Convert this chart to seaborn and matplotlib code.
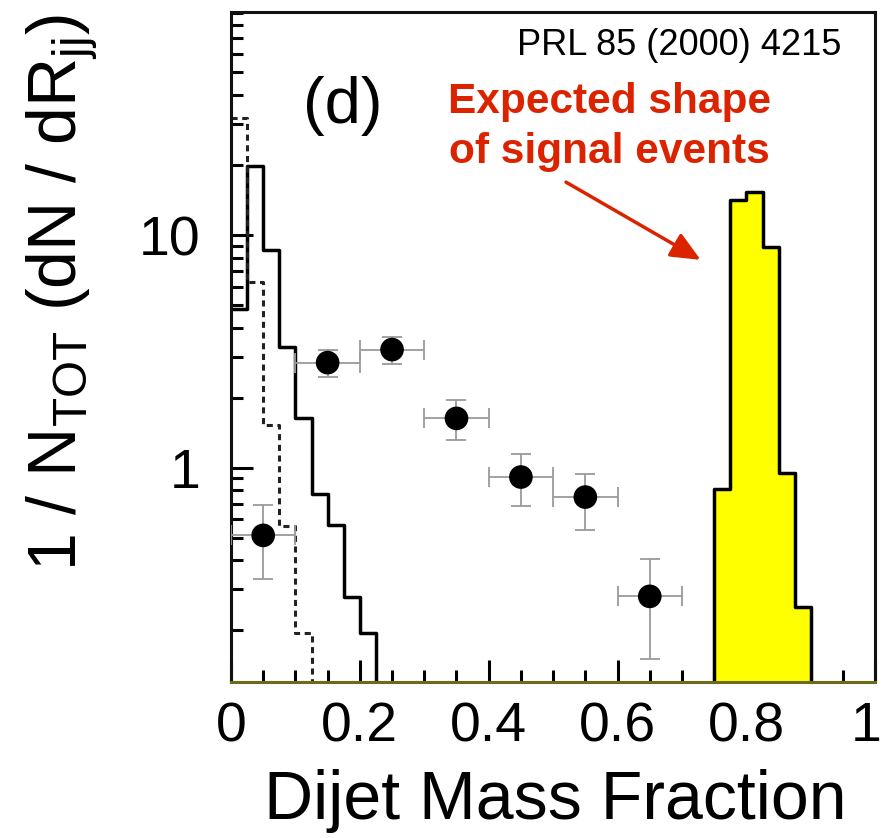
import numpy as np
import matplotlib
matplotlib.use('Agg')
import matplotlib.pyplot as plt
from matplotlib.ticker import MultipleLocator, NullFormatter
from matplotlib.transforms import ScaledTranslation
import seaborn as sns

# Background shapes (bins of 0.025 starting at 0)
solid_centers = [0.0125, 0.0375, 0.0625, 0.0875, 0.1125, 0.1375, 0.1625, 0.1875, 0.2125]
solid_heights = [4.8, 19.9, 8.6, 3.3, 1.64, 0.77, 0.57, 0.278, 0.195]
dashed_centers = [0.0125, 0.0375, 0.0625, 0.0875, 0.1125]
dashed_heights = [32.0, 6.3, 1.52, 0.56, 0.195]

# Expected signal shape (yellow)
signal_centers = [0.7625, 0.7875, 0.8125, 0.8375, 0.8625, 0.8875]
signal_heights = [0.81, 14.2, 15.3, 8.9, 0.95, 0.252]

# Data points with errors
data_x = [0.05, 0.15, 0.25, 0.35, 0.45, 0.55, 0.65]
data_y = [0.512, 2.83, 3.22, 1.63, 0.912, 0.748, 0.28]
data_lo = [0.331, 2.45, 2.80, 1.31, 0.683, 0.542, 0.151]
data_hi = [0.689, 3.20, 3.65, 1.95, 1.15, 0.943, 0.404]
data_xerr = [0.05, 0.05, 0.05, 0.05, 0.05, 0.05, 0.05]

xtick_vals = [0, 0.2, 0.4, 0.6, 0.8, 1.0]
xtick_labels = ['0', '0.2', '0.4', '0.6', '0.8', '1']
ytick_vals = [1, 10]
ytick_labels = ['1', '10']

sns.set_style('ticks')
plt.rcParams['font.family'] = ['Liberation Sans', 'DejaVu Sans']
plt.rcParams['mathtext.fontset'] = 'custom'
plt.rcParams['mathtext.rm'] = 'Liberation Sans'
plt.rcParams['text.color'] = 'black'
plt.rcParams['axes.labelcolor'] = 'black'

red = '#dc2300'

fig = plt.figure(figsize=(8.85, 8.38), dpi=100)
ax = fig.add_axes([0.261, 0.1862, 0.728, 0.7995])
ax.set_yscale('log')

# signal
sns.histplot(x=signal_centers, weights=signal_heights, bins=6, binrange=(0.75, 0.9),
             element='step', fill=True, color='#ffff00', edgecolor='black',
             linewidth=2.5, alpha=1, ax=ax, zorder=2)
# backgrounds
sns.histplot(x=solid_centers, weights=solid_heights, bins=40, binrange=(0, 1),
             element='step', fill=False, color='black', linewidth=2.5, ax=ax, zorder=2)
sns.histplot(x=dashed_centers, weights=dashed_heights, bins=40, binrange=(0, 1),
             element='step', fill=False, color='#222222', linewidth=2.2,
             linestyle=(0, (2.0, 1.5)), ax=ax, zorder=2)

# data
yerr = [np.subtract(data_y, data_lo), np.subtract(data_hi, data_y)]
ax.errorbar(data_x, data_y, xerr=data_xerr, yerr=yerr, fmt='none', ecolor='#9a9a9a',
            elinewidth=1.3, capsize=7, capthick=1.3, zorder=3)
sns.scatterplot(x=data_x, y=data_y, color='black', s=290, edgecolor='none', zorder=4, ax=ax)

ax.set_xlim(0, 1)
ax.set_ylim(0.12, 91)
ax.set_xticks(xtick_vals, xtick_labels)
ax.xaxis.set_minor_locator(MultipleLocator(0.05))
ax.set_yticks(ytick_vals, ytick_labels)
ax.yaxis.set_minor_formatter(NullFormatter())
ax.set_xlabel('')
ax.set_ylabel('')

ax.tick_params(which='both', direction='in', top=False, right=False, width=2.2,
               color='black', labelcolor='black')
ax.tick_params(which='major', length=16)
ax.tick_params(which='minor', length=8.5)
ax.tick_params(axis='y', labelsize=40, pad=22)
ax.tick_params(axis='x', labelsize=40, pad=14)

for side in ['left', 'top', 'right']:
    ax.spines[side].set_linewidth(2.2)
    ax.spines[side].set_color('#111111')
ax.spines['bottom'].set_linewidth(2.2)
ax.spines['bottom'].set_color('#6b6b1a')

ax.set_xlabel('Dijet Mass Fraction', fontsize=49)
ax.xaxis.set_label_coords(0.504, -0.13)
ax.set_ylabel(r'1 / N$_\mathregular{TOT}$ (dN / dR$_\mathregular{jj}$)', fontsize=49)
ax.yaxis.set_label_coords(-0.203, 0.582)

ax.text(0.947, 0.9358, 'PRL 85 (2000) 4215', transform=ax.transAxes,
        ha='right', va='baseline', fontsize=26)
ax.text(0.1734, 0.834, '(d)', transform=ax.transAxes,
        ha='center', va='baseline', fontsize=47)
ax.text(0.588, 0.849, 'Expected shape', transform=ax.transAxes, color=red,
        ha='center', va='baseline', fontsize=30.5, fontweight='bold')
ax.text(0.588, 0.7746, 'of signal events', transform=ax.transAxes, color=red,
        ha='center', va='baseline', fontsize=30.5, fontweight='bold')
ax.annotate('', xy=(0.729, 0.630), xytext=(0.520, 0.746), xycoords='axes fraction',
            arrowprops=dict(arrowstyle='-|>,head_length=0.9,head_width=0.4',
                            mutation_scale=20, color=red, lw=2.5,
                            shrinkA=0, shrinkB=0))

# keep the "1" label inside the canvas
last = ax.xaxis.get_major_ticks()[-1].label1
last.set_transform(last.get_transform() + ScaledTranslation(-9 / 100, 0, fig.dpi_scale_trans))

fig.savefig('out.png', dpi=100)
